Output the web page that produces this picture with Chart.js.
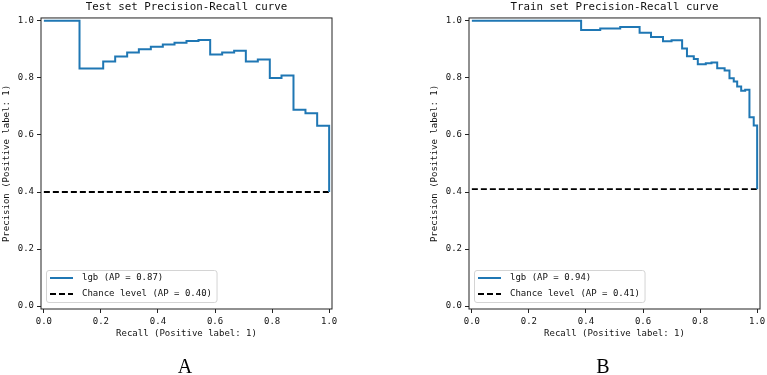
<!DOCTYPE html>
<html>
<head>
<meta charset="utf-8">
<script src="https://cdn.jsdelivr.net/npm/chart.js@4.4.1/dist/chart.umd.min.js"></script>
<style>
  html, body { margin: 0; padding: 0; background: #fff; }
  body { width: 767px; height: 375px; position: relative; overflow: hidden; }
  .panel { position: absolute; top: 0; width: 345px; height: 375px; }
  .tag { position: absolute; font-family: "Liberation Serif", serif; font-size: 20px; color: #000;
         transform: translate(-50%, -50%); line-height: 1; }
</style>
</head>
<body>
<div class="panel" style="left:0"><canvas id="testChart" width="345" height="375"></canvas></div>
<div class="panel" style="left:428px"><canvas id="trainChart" width="345" height="375"></canvas></div>
<div class="tag" style="left:185px; top:366px">A</div>
<div class="tag" style="left:603px; top:366px">B</div>
<script>
// tick labels
const xTicks = [0, 0.2, 0.4, 0.6, 0.8, 1.0];
const yTicks = [0, 0.2, 0.4, 0.6, 0.8, 1.0];

// test set curve (recall, precision)
const testRecall = [0, 0.125, 0.208, 0.25, 0.292, 0.333, 0.375, 0.417, 0.458, 0.5, 0.542, 0.583,
  0.625, 0.667, 0.708, 0.75, 0.792, 0.833, 0.875, 0.917, 0.958, 1.0, 1.0];
const testPrecision = [1, 1, 0.833, 0.857, 0.875, 0.889, 0.9, 0.909, 0.917, 0.923, 0.929, 0.933,
  0.882, 0.889, 0.895, 0.857, 0.864, 0.8, 0.808, 0.688, 0.676, 0.632, 0.4];

// train set curve
const trainRecall = [0, 0.383, 0.45, 0.52, 0.588, 0.628, 0.670, 0.70, 0.737, 0.754, 0.778, 0.792,
  0.82, 0.84, 0.860, 0.886, 0.903, 0.918, 0.930, 0.944, 0.958, 0.973, 0.988, 1.0, 1.0];
const trainPrecision = [1, 1, 0.968, 0.973, 0.978, 0.958, 0.943, 0.928, 0.932, 0.903, 0.876, 0.866,
  0.848, 0.851, 0.854, 0.834, 0.826, 0.799, 0.787, 0.770, 0.755, 0.758, 0.662, 0.633, 0.41];

// chance level lines
const chanceRecall = [0, 1];
const testChance = [0.40, 0.40];
const trainChance = [0.41, 0.41];

const mono = '"DejaVu Sans Mono", monospace';
const ink = '#111';

// draws the box round the plot and the legend in the lower left corner
const frameLegend = {
  id: 'frameLegend',
  afterDraw(chart) {
    const ctx = chart.ctx;
    const a = chart.chartArea;
    ctx.save();
    ctx.strokeStyle = '#222';
    ctx.lineWidth = 1;
    ctx.strokeRect(a.left, a.top, a.right - a.left, a.bottom - a.top);

    ctx.font = '9px ' + mono;
    const sets = chart.data.datasets;
    const textW = Math.max(...sets.map(d => ctx.measureText(d.label).width));
    const bx = a.left + 5, bh = 32, by = a.bottom - 7 - bh;
    const bw = 40.5 + textW;
    ctx.beginPath();
    ctx.roundRect(bx + 0.5, by + 0.5, bw, bh, 2.5);
    ctx.fillStyle = 'rgba(255,255,255,0.85)';
    ctx.fill();
    ctx.strokeStyle = '#d4d4d4';
    ctx.stroke();

    sets.forEach((d, i) => {
      const y = a.bottom - 31 + i * 16;
      ctx.beginPath();
      ctx.setLineDash(d.borderDash || []);
      ctx.strokeStyle = d.borderColor;
      ctx.lineWidth = d.borderWidth;
      ctx.moveTo(a.left + 9, y);
      ctx.lineTo(a.left + 32, y);
      ctx.stroke();
      ctx.setLineDash([]);
      ctx.fillStyle = ink;
      ctx.textBaseline = 'middle';
      ctx.textAlign = 'left';
      ctx.fillText(d.label, a.left + 41, y);
    });
    ctx.restore();
  }
};

function makePanel(id, title, recall, precision, chance, apLabel, chanceLabel) {
  const tickFont = { family: mono, size: 9 };
  new Chart(document.getElementById(id), {
    type: 'line',
    data: {
      datasets: [
        {
          label: apLabel,
          data: recall.map((r, i) => ({ x: r, y: precision[i] })),
          stepped: 'after',
          borderColor: '#1f77b4',
          borderWidth: 2,
          pointRadius: 0,
          fill: false
        },
        {
          label: chanceLabel,
          data: chanceRecall.map((r, i) => ({ x: r, y: chance[i] })),
          borderColor: '#000',
          borderWidth: 1.8,
          borderDash: [6, 3],
          pointRadius: 0,
          fill: false
        }
      ]
    },
    options: {
      responsive: false,
      animation: false,
      layout: { padding: { top: 0, right: 13, bottom: 0, left: 0 } },
      plugins: {
        legend: { display: false },
        tooltip: { enabled: false },
        title: {
          display: true,
          text: title,
          fullSize: false,
          color: ink,
          font: { family: mono, size: 10.8, weight: 'normal' },
          padding: { top: 0.5, bottom: 4.5 }
        }
      },
      scales: {
        x: {
          type: 'linear',
          min: -0.01,
          max: 1.01,
          afterFit: s => { s.height = 66; },
          afterBuildTicks: s => { s.ticks = xTicks.map(v => ({ value: v })); },
          ticks: { callback: v => v.toFixed(1), font: tickFont, color: ink, padding: 3, maxRotation: 0, autoSkip: false },
          grid: { display: true, drawOnChartArea: false, drawTicks: true, tickLength: 4, color: '#222' },
          border: { display: false },
          title: { display: true, text: 'Recall (Positive label: 1)', font: tickFont, color: ink, padding: { top: 0, bottom: 35.6 } }
        },
        y: {
          min: -0.01,
          max: 1.01,
          afterFit: s => { s.width = 41; },
          afterBuildTicks: s => { s.ticks = yTicks.map(v => ({ value: v })); },
          ticks: { callback: v => v.toFixed(1), font: tickFont, color: ink, padding: 3, autoSkip: false },
          grid: { display: true, drawOnChartArea: false, drawTicks: true, tickLength: 4, color: '#222' },
          border: { display: false },
          title: { display: true, text: 'Precision (Positive label: 1)', font: tickFont, color: ink, padding: { top: 1.6, bottom: 0 } }
        }
      }
    },
    plugins: [frameLegend]
  });
}

makePanel('testChart', 'Test set Precision-Recall curve', testRecall, testPrecision, testChance,
  'lgb (AP = 0.87)', 'Chance level (AP = 0.40)');
makePanel('trainChart', 'Train set Precision-Recall curve', trainRecall, trainPrecision, trainChance,
  'lgb (AP = 0.94)', 'Chance level (AP = 0.41)');
</script>
</body>
</html>
